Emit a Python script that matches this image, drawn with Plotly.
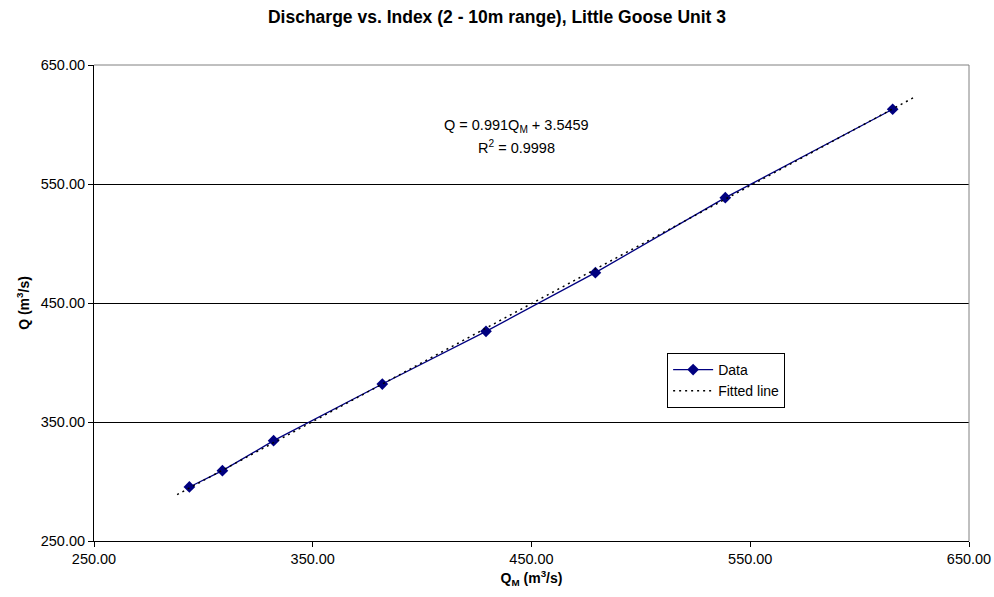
import plotly.graph_objects as go

# Data
qm_data = [293.6, 308.7, 332.1, 381.8, 429.2, 479.2, 538.6, 615.1]
q_data = [295.4, 309.1, 334.3, 381.9, 426.2, 475.5, 538.5, 612.8]

# Trendline (as printed on the chart)
slope = 0.991
intercept = 3.5459
fit_x = [288.0, 625.0]
fit_y = [slope * x + intercept for x in fit_x]

x_ticks = [250, 350, 450, 550, 650]
y_ticks = [250, 350, 450, 550, 650]

font_family = "Liberation Sans, Arial, sans-serif"

fig = go.Figure()
fig.add_trace(go.Scatter(
    x=qm_data, y=q_data, mode="lines+markers", name="Data",
    line=dict(color="#000080", width=1.3),
    marker=dict(symbol="diamond", size=9, color="#000080"),
))
fig.add_trace(go.Scatter(
    x=fit_x, y=fit_y, mode="lines", name="Fitted line",
    line=dict(color="#000000", width=1.5, dash="2px,4px"),
))

fig.update_layout(
    width=994, height=597,
    margin=dict(l=94, r=25, t=65, b=56, autoexpand=False),
    paper_bgcolor="white", plot_bgcolor="white",
    font=dict(family=font_family, size=14.5, color="#000000"),
    title=dict(text="<b>Discharge vs. Index (2 - 10m range), Little Goose Unit 3</b>",
               x=0.5, xref="container", xanchor="center", y=1 - 17 / 597, yanchor="middle",
               font=dict(size=17.5, family=font_family)),
    showlegend=True,
    legend=dict(x=0.655, y=0.395, xanchor="left", yanchor="top",
                bordercolor="#000000", borderwidth=1, bgcolor="white",
                font=dict(size=14), tracegroupgap=0, itemwidth=40),
    shapes=[
        dict(type="line", xref="paper", yref="paper", x0=0, x1=1, y0=1, y1=1,
             line=dict(color="#808080", width=1)),
        dict(type="line", xref="paper", yref="paper", x0=1, x1=1, y0=0, y1=1,
             line=dict(color="#808080", width=1)),
    ],
    annotations=[
        dict(text="Q = 0.991Q<sub>M</sub> + 3.5459", xref="paper", yref="paper",
             x=(516 - 94) / 875, y=(541 - 126) / 476, showarrow=False,
             xanchor="center", yanchor="middle", font=dict(size=14.5)),
        dict(text="R<sup>2</sup> = 0.9998", xref="paper", yref="paper",
             x=(516 - 94) / 875, y=(541 - 147) / 476, showarrow=False,
             xanchor="center", yanchor="middle", font=dict(size=14.5)),
    ],
)

fig.update_xaxes(
    range=[250, 650], tickvals=x_ticks, tickformat=".2f",
    showgrid=False, zeroline=False, automargin=False,
    showline=True, linecolor="#000000", linewidth=1,
    ticks="outside", ticklen=5, tickcolor="#000000",
    tickfont=dict(size=14.5),
    title=dict(text="<b>Q<sub>M</sub> (m<sup>3</sup>/s)</b>", font=dict(size=14), standoff=6),
)
fig.update_yaxes(
    range=[250, 650], tickvals=y_ticks, tickformat=".2f",
    showgrid=True, gridcolor="#000000", gridwidth=1, zeroline=False, automargin=False,
    showline=True, linecolor="#000000", linewidth=1,
    ticks="outside", ticklen=5, tickcolor="#000000",
    tickfont=dict(size=14.5),
    title=dict(text="<b>Q (m<sup>3</sup>/s)</b>", font=dict(size=14), standoff=7),
)

fig.write_html(
    "out.html",
    config={"displayModeBar": False},
    post_script="document.body.style.margin='0';document.documentElement.style.overflow='hidden';",
)
